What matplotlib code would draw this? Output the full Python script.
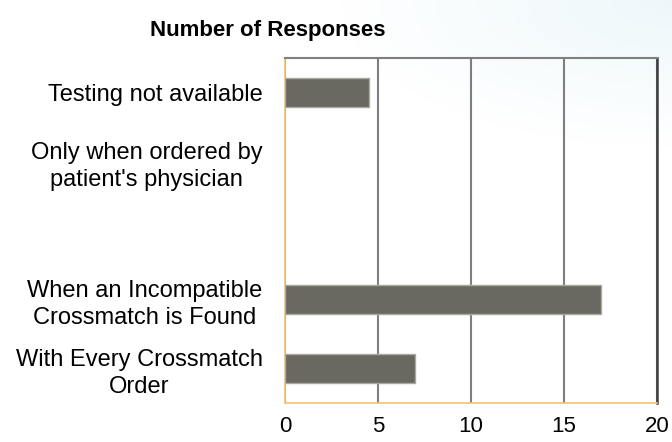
import numpy as np
import matplotlib
matplotlib.use("Agg")
import matplotlib.pyplot as plt

categories = [
    "Testing not available",
    "Only when ordered by\npatient's physician",
    "",
    "When an Incompatible\nCrossmatch is Found",
    "With Every Crossmatch\nOrder",
]
responses = [4.5, 0, 0, 17, 7]
x_ticks = [0, 5, 10, 15, 20]

plt.rcParams['font.family'] = ['Liberation Sans', 'DejaVu Sans']


def draw_background(fig):
    # faint blue wash in the top right corner, like the slide behind the chart
    bg = fig.add_axes([0, 0, 1, 1], zorder=-10)
    h, w = 200, 300
    yy, xx = np.mgrid[0:h, 0:w]
    d = np.sqrt(((w - xx) / w) ** 2 * 4 + (yy / h) ** 2 * 9)
    alpha = np.clip(1 - d, 0, 1) * 0.35
    img = np.zeros((h, w, 4))
    img[..., 0] = 0.80
    img[..., 1] = 0.92
    img[..., 2] = 0.95
    img[..., 3] = alpha
    bg.imshow(img, extent=[0, 1, 0, 1], aspect='auto')
    bg.axis('off')


def draw_plot():
    fig = plt.figure(figsize=(6.72, 4.42), dpi=100)
    draw_background(fig)
    ax = fig.add_axes([0.424, 0.088, 0.554, 0.781])
    ax.set_facecolor('none')

    y = np.arange(len(categories))
    edge_w = [1.0 if v > 0 else 0 for v in responses]
    ax.barh(y, responses, height=0.42, color='#696962',
            edgecolor='#a9a99f', linewidth=edge_w, zorder=3)

    ax.set_xlim(0, 20)
    ax.set_ylim(len(categories) - 0.5, -0.5)
    ax.set_xticks(x_ticks)
    ax.set_yticks(y)
    ax.set_yticklabels(categories, multialignment='center', fontsize=17,
                       linespacing=1.3)
    ax.tick_params(axis='x', labelsize=16, length=0, pad=9)
    ax.tick_params(axis='y', length=0, pad=16)

    ax.xaxis.grid(True, color='#7f7f7f', linewidth=1.5, zorder=0)
    ax.set_axisbelow(True)

    ax.spines['left'].set_color('#f5c16e')
    ax.spines['bottom'].set_color('#f5c16e')
    ax.spines['left'].set_linewidth(1.2)
    ax.spines['bottom'].set_linewidth(1.2)
    ax.spines['top'].set_color('#7f7f7f')
    ax.spines['top'].set_linewidth(1.5)
    ax.spines['right'].set_color('#3f3f3f')
    ax.spines['right'].set_linewidth(1.8)

    fig.text(0.399, 0.93, "Number of Responses", ha='center', va='center',
             fontsize=16, fontweight='bold')

    fig.savefig("out.png", dpi=100)


if __name__ == "__main__":
    draw_plot()
